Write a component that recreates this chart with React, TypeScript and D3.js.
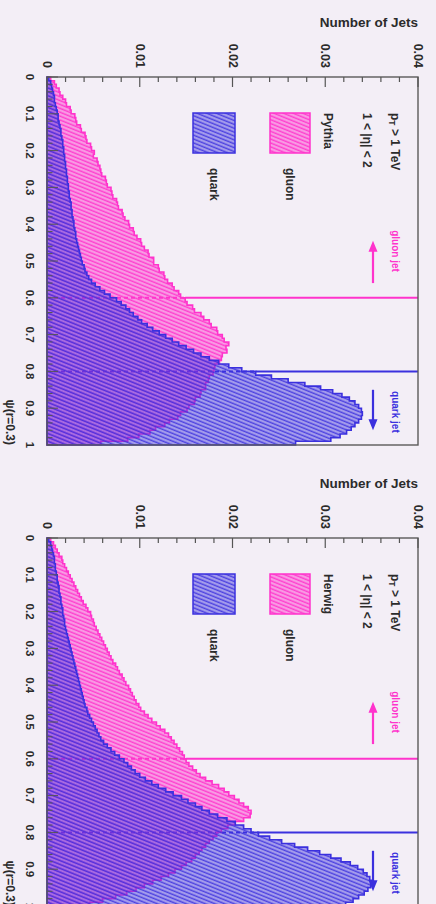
import React from "react";
import * as d3 from "d3";

// ---- data (100 bins from 0 to 1, normalised) ----
const BIN_EDGES_N = 100;
const X_TICKS = [0, 0.1, 0.2, 0.3, 0.4, 0.5, 0.6, 0.7, 0.8, 0.9, 1];
const Y_TICKS = [0, 0.01, 0.02, 0.03, 0.04];
const CUTS = [0.6, 0.8];

const PYTHIA_GLUON = [
  0.0004, 0.0008, 0.0010, 0.0013, 0.0014, 0.0017, 0.0020, 0.0021, 0.0025, 0.0026,
  0.0030, 0.0031, 0.0032, 0.0036, 0.0037, 0.0041, 0.0042, 0.0043, 0.0047, 0.0048,
  0.0051, 0.0050, 0.0054, 0.0055, 0.0057, 0.0058, 0.0059, 0.0063, 0.0064, 0.0065,
  0.0069, 0.0070, 0.0071, 0.0075, 0.0076, 0.0077, 0.0081, 0.0082, 0.0084, 0.0088,
  0.0089, 0.0093, 0.0094, 0.0097, 0.0101, 0.0102, 0.0105, 0.0109, 0.0110, 0.0115,
  0.0115, 0.0120, 0.0121, 0.0126, 0.0127, 0.0130, 0.0135, 0.0137, 0.0142, 0.0144,
  0.0149, 0.0151, 0.0157, 0.0159, 0.0166, 0.0169, 0.0175, 0.0177, 0.0183, 0.0184,
  0.0189, 0.0191, 0.0196, 0.0193, 0.0194, 0.0189, 0.0188, 0.0186, 0.0181, 0.0180,
  0.0179, 0.0175, 0.0174, 0.0171, 0.0171, 0.0166, 0.0165, 0.0160, 0.0159, 0.0153,
  0.0151, 0.0144, 0.0141, 0.0132, 0.0127, 0.0117, 0.0111, 0.0099, 0.0087, 0.0058,
];
const PYTHIA_QUARK = [
  0.0002, 0.0004, 0.0005, 0.0006, 0.0007, 0.0008, 0.0008, 0.0009, 0.0010, 0.0011,
  0.0012, 0.0012, 0.0013, 0.0014, 0.0015, 0.0015, 0.0016, 0.0017, 0.0017, 0.0018,
  0.0018, 0.0019, 0.0019, 0.0020, 0.0020, 0.0021, 0.0021, 0.0022, 0.0022, 0.0023,
  0.0023, 0.0024, 0.0024, 0.0025, 0.0026, 0.0026, 0.0027, 0.0027, 0.0028, 0.0029,
  0.0029, 0.0030, 0.0031, 0.0031, 0.0032, 0.0033, 0.0034, 0.0035, 0.0036, 0.0037,
  0.0038, 0.0040, 0.0041, 0.0043, 0.0045, 0.0048, 0.0052, 0.0057, 0.0062, 0.0068,
  0.0075, 0.0080, 0.0085, 0.0089, 0.0093, 0.0098, 0.0102, 0.0108, 0.0114, 0.0121,
  0.0128, 0.0135, 0.0142, 0.0150, 0.0158, 0.0166, 0.0175, 0.0185, 0.0196, 0.0210,
  0.0225, 0.0242, 0.0260, 0.0278, 0.0295, 0.0308, 0.0318, 0.0326, 0.0332, 0.0336,
  0.0339, 0.0340, 0.0339, 0.0336, 0.0332, 0.0328, 0.0323, 0.0316, 0.0306, 0.0268,
];
const HERWIG_GLUON = [
  0.0004, 0.0007, 0.0009, 0.0011, 0.0013, 0.0016, 0.0017, 0.0019, 0.0021, 0.0023,
  0.0025, 0.0027, 0.0029, 0.0031, 0.0033, 0.0035, 0.0037, 0.0039, 0.0042, 0.0044,
  0.0047, 0.0048, 0.0050, 0.0051, 0.0053, 0.0055, 0.0057, 0.0059, 0.0061, 0.0063,
  0.0065, 0.0067, 0.0069, 0.0071, 0.0074, 0.0076, 0.0078, 0.0081, 0.0083, 0.0085,
  0.0088, 0.0090, 0.0092, 0.0094, 0.0096, 0.0099, 0.0101, 0.0105, 0.0109, 0.0113,
  0.0118, 0.0122, 0.0127, 0.0131, 0.0134, 0.0137, 0.0140, 0.0143, 0.0146, 0.0148,
  0.0150, 0.0153, 0.0157, 0.0161, 0.0165, 0.0171, 0.0178, 0.0185, 0.0191, 0.0196,
  0.0202, 0.0207, 0.0212, 0.0217, 0.0220, 0.0219, 0.0212, 0.0203, 0.0195, 0.0188,
  0.0183, 0.0179, 0.0175, 0.0171, 0.0167, 0.0164, 0.0160, 0.0156, 0.0150, 0.0145,
  0.0138, 0.0131, 0.0123, 0.0114, 0.0105, 0.0096, 0.0086, 0.0074, 0.0060, 0.0046,
];
const HERWIG_QUARK = [
  0.0002, 0.0004, 0.0005, 0.0006, 0.0007, 0.0008, 0.0008, 0.0009, 0.0009, 0.0010,
  0.0011, 0.0011, 0.0012, 0.0013, 0.0013, 0.0014, 0.0015, 0.0015, 0.0016, 0.0017,
  0.0017, 0.0018, 0.0019, 0.0019, 0.0020, 0.0021, 0.0022, 0.0023, 0.0024, 0.0025,
  0.0026, 0.0027, 0.0028, 0.0029, 0.0030, 0.0031, 0.0032, 0.0033, 0.0034, 0.0035,
  0.0036, 0.0037, 0.0038, 0.0039, 0.0040, 0.0041, 0.0043, 0.0044, 0.0046, 0.0048,
  0.0050, 0.0052, 0.0054, 0.0056, 0.0058, 0.0061, 0.0065, 0.0069, 0.0073, 0.0078,
  0.0083, 0.0087, 0.0091, 0.0095, 0.0100, 0.0106, 0.0113, 0.0120, 0.0128, 0.0136,
  0.0145, 0.0152, 0.0160, 0.0167, 0.0175, 0.0184, 0.0194, 0.0203, 0.0212, 0.0220,
  0.0228, 0.0240, 0.0253, 0.0267, 0.0281, 0.0294, 0.0306, 0.0317, 0.0327, 0.0335,
  0.0341, 0.0345, 0.0348, 0.0350, 0.0349, 0.0346, 0.0342, 0.0336, 0.0330, 0.0322,
];

const GENERATORS = ["Pythia", "Herwig"];
const LEGEND_LINES = ["p_T > 1 TeV", "1 < |η| < 2"];
const SERIES_LABELS = ["quark", "gluon"];
const ARROW_LABELS = ["gluon jet", "quark jet"];

// ---- layout ----
const WIDTH = 436;
const HEIGHT = 904;
const PW = 368; // plot extent along x-variable (image vertical)
const PH = 371; // plot extent along counts (image horizontal)
const PANELS = [
  { ox: 418, oy: 77, gen: GENERATORS[0], gluon: PYTHIA_GLUON, quark: PYTHIA_QUARK },
  { ox: 418, oy: 538, gen: GENERATORS[1], gluon: HERWIG_GLUON, quark: HERWIG_QUARK },
];

const BLUE = "#3b30de";
const PINK = "#ff33cc";
const FONT = "'Liberation Sans', Arial, sans-serif";
const TXT = "#2b2b2b";

const x = d3.scaleLinear().domain([0, 1]).range([0, PW]);
const y = d3.scaleLinear().domain([0, 0.04]).range([PH, 0]);

function stepPath(vals: number[]): string {
  const pts: [number, number][] = [[x(0), y(0)]];
  vals.forEach((v, i) => {
    pts.push([x(i / BIN_EDGES_N), y(v)]);
    pts.push([x((i + 1) / BIN_EDGES_N), y(v)]);
  });
  pts.push([x(1), y(0)]);
  return (d3.line()(pts) || "") + "Z";
}

function Panel({ p, idx }: { p: typeof PANELS[number]; idx: number }) {
  const minorX = d3.range(0, 51).map((i) => i / 50);
  const minorY = d3.range(0, 21).map((i) => i * 0.002);
  const pinkId = `pinkH${idx}`;
  const blueId = `blueH${idx}`;
  return (
    <g transform={`translate(${p.ox},${p.oy}) rotate(90)`}>
      <defs>
        <pattern id={pinkId} width={3.6} height={3.6} patternUnits="userSpaceOnUse" patternTransform="rotate(-68)">
          <rect width={3.6} height={3.6} fill={PINK} fillOpacity={0.42} />
          <line x1={0} y1={1.2} x2={3.6} y2={1.2} stroke={PINK} strokeWidth={1.5} strokeOpacity={0.9} />
        </pattern>
        <pattern id={blueId} width={3.6} height={3.6} patternUnits="userSpaceOnUse" patternTransform="rotate(-68)">
          <rect width={3.6} height={3.6} fill={BLUE} fillOpacity={0.4} />
          <line x1={0} y1={1.2} x2={3.6} y2={1.2} stroke={BLUE} strokeWidth={1.5} strokeOpacity={0.85} />
        </pattern>
      </defs>
      {/* cut lines (dashed inside histograms, solid above) */}
      {CUTS.map((c, i) => {
        const bin = Math.min(BIN_EDGES_N - 1, Math.floor(c * BIN_EDGES_N));
        const top = Math.max(p.gluon[bin], p.quark[bin]);
        const col = i === 0 ? PINK : BLUE;
        return (
          <g key={c}>
            <line x1={x(c)} x2={x(c)} y1={y(0)} y2={y(top)} stroke={col} strokeWidth={2} strokeDasharray="4 3" />
            <line x1={x(c)} x2={x(c)} y1={y(top)} y2={y(0.04)} stroke={col} strokeWidth={2} />
          </g>
        );
      })}
      {/* histograms */}
      <path d={stepPath(p.gluon)} fill={`url(#${pinkId})`} stroke={PINK} strokeWidth={1.6} />
      <path d={stepPath(p.quark)} fill={`url(#${blueId})`} stroke={BLUE} strokeWidth={1.6} />

      {/* frame */}
      <rect x={0} y={0} width={PW} height={PH} fill="none" stroke="#5a5a5a" strokeWidth={1.4} />
      {/* x ticks (bottom) */}
      {minorX.map((t, i) => (
        <line key={"mx" + i} x1={x(t)} x2={x(t)} y1={PH} y2={PH - (i % 5 === 0 ? 11 : 5.5)} stroke="#555" strokeWidth={1} />
      ))}
      {/* y ticks (left) */}
      {minorY.map((t, i) => (
        <line key={"my" + i} x1={0} x2={i % 5 === 0 ? 10 : 5} y1={y(t)} y2={y(t)} stroke="#555" strokeWidth={1.2} />
      ))}
      {/* x tick labels */}
      {X_TICKS.map((t) => (
        <text key={"xl" + t} x={x(t)} y={PH + 17} textAnchor="middle" dominantBaseline="central"
          fontFamily={FONT} fontSize={11.5} fontWeight="bold" fill={TXT}>
          {t === 0 ? "0" : t === 1 ? "1" : t.toFixed(1)}
        </text>
      ))}
      {/* y tick labels */}
      {Y_TICKS.map((t) => (
        <text key={"yl" + t} x={-9} y={y(t)} textAnchor="end" dominantBaseline="central"
          fontFamily={FONT} fontSize={12.5} fontWeight="bold" fill={TXT}>
          {t === 0 ? "0" : t.toFixed(2)}
        </text>
      ))}
      {/* axis titles */}
      <text transform={`translate(-55,0) rotate(-90)`} textAnchor="end" dominantBaseline="central"
        fontFamily={FONT} fontSize={13.5} fontWeight="bold" fill={TXT}>Number of Jets</text>
      <text x={PW} y={PH + 37} textAnchor="end" dominantBaseline="central"
        fontFamily={FONT} fontSize={12} fontWeight="bold" fill={TXT}>ψ(r=0.3)</text>

      {/* legend */}
      <text x={36} y={23} dominantBaseline="central" fontFamily={FONT} fontSize={12} fontWeight="bold" fill={TXT}>
        p<tspan fontSize={8.5} dy={3}>T</tspan><tspan dy={-3}> &gt; 1 TeV</tspan>
      </text>
      <text x={36} y={51} dominantBaseline="central" fontFamily={FONT} fontSize={12} fontWeight="bold" fill={TXT}>
        {LEGEND_LINES[1]}
      </text>
      <text x={36} y={90} dominantBaseline="central" fontFamily={FONT} fontSize={12} fontWeight="bold" fill={TXT}>
        {p.gen}
      </text>
      <rect x={36} y={108} width={40} height={40} fill={`url(#${pinkId})`} stroke={PINK} strokeWidth={1.5} />
      <text x={91} y={128} dominantBaseline="central" fontFamily={FONT} fontSize={12} fontWeight="bold" fill={TXT}>
        {SERIES_LABELS[1]}
      </text>
      <rect x={36} y={183} width={40} height={42} fill={`url(#${blueId})`} stroke={BLUE} strokeWidth={1.5} />
      <text x={91} y={204} dominantBaseline="central" fontFamily={FONT} fontSize={12} fontWeight="bold" fill={TXT}>
        {SERIES_LABELS[0]}
      </text>

      {/* arrows */}
      <line x1={x(0.56)} x2={x(0.465)} y1={45} y2={45} stroke={PINK} strokeWidth={2.2} />
      <path d={`M${x(0.445)},45 L${x(0.475)},40.5 L${x(0.475)},49.5 Z`} fill={PINK} />
      <text x={x(0.473)} y={23} textAnchor="middle" dominantBaseline="central" fontFamily={FONT} fontSize={10} fontWeight="bold" fill={PINK}>
        {ARROW_LABELS[0]}
      </text>
      <line x1={x(0.85)} x2={x(0.935)} y1={45} y2={45} stroke={BLUE} strokeWidth={2.2} />
      <path d={`M${x(0.96)},45 L${x(0.93)},40.5 L${x(0.93)},49.5 Z`} fill={BLUE} />
      <text x={x(0.91)} y={23} textAnchor="middle" dominantBaseline="central" fontFamily={FONT} fontSize={10} fontWeight="bold" fill={BLUE}>
        {ARROW_LABELS[1]}
      </text>
    </g>
  );
}

export default function App() {
  return (
    <svg width={WIDTH} height={HEIGHT} style={{ position: "absolute", left: 0, top: 0 }}>
      <rect width={WIDTH} height={HEIGHT} fill="#f3eef6" />
      {PANELS.map((p, i) => (
        <Panel key={i} p={p} idx={i} />
      ))}
    </svg>
  );
}
